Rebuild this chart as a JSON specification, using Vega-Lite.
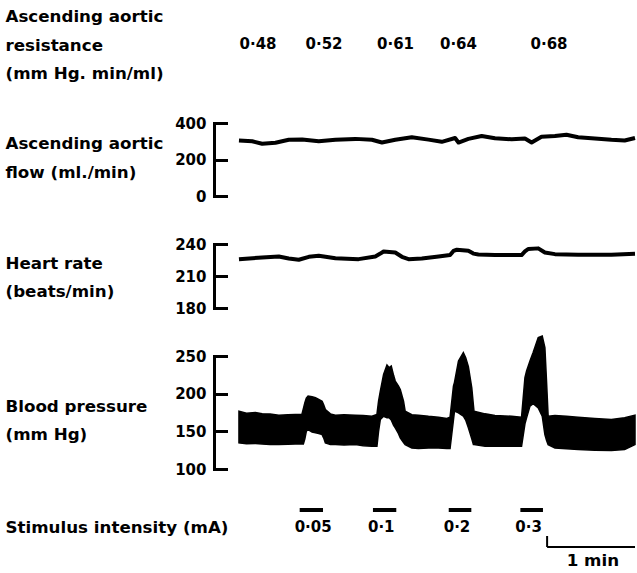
{
  "$schema": "https://vega.github.io/schema/vega-lite/v6.json",
  "background": "white",
  "padding": {"left": 5, "top": 0, "right": 0, "bottom": 0},
  "bounds": "flush",
  "spacing": 48,
  "config": {
    "font": "DejaVu Sans",
    "view": {"stroke": null},
    "axis": {
      "grid": false,
      "domainColor": "black", "domainWidth": 3, "domainCap": "square",
      "tickColor": "black", "tickWidth": 3, "tickSize": -12, "tickCap": "square",
      "labelPadding": 20, "labelFont": "DejaVu Sans", "labelFontWeight": "bold", "labelFontSize": 15, "labelColor": "black",
      "titleFont": "DejaVu Sans", "titleFontWeight": "bold", "titleFontSize": 16.7, "titleColor": "black",
      "titleAngle": 0, "titleAlign": "left", "titleBaseline": "middle", "titleX": -209, "titleLineHeight": 28.5
    }
  },
  "vconcat": [
    {
      "width": 421, "height": 75,
      "data": {"values": [
        {"t": 29.8, "r": "0·48", "row": "resistance"},
        {"t": 74.5, "r": "0·52", "row": "resistance"},
        {"t": 122.9, "r": "0·61", "row": "resistance"},
        {"t": 165.5, "r": "0·64", "row": "resistance"},
        {"t": 226.8, "r": "0·68", "row": "resistance"}
      ]},
      "mark": {"type": "text", "fontWeight": "bold", "fontSize": 15, "color": "black", "baseline": "middle"},
      "encoding": {
        "x": {"field": "t", "type": "quantitative", "scale": {"domain": [0, 285], "nice": false, "zero": false}, "axis": null},
        "y": {"field": "row", "type": "nominal", "scale": {"type": "point", "padding": 0.5, "align": 0.5867},
              "axis": {"title": ["Ascending aortic", "resistance", "(mm Hg. min/ml)"], "titleY": 16.5, "domain": false, "ticks": false, "labels": false}},
        "text": {"field": "r"}
      }
    },
    {
      "width": 421, "height": 73,
      "data": {"values": [
        {"t": 16.9, "v": 304}, {"t": 25.9, "v": 300}, {"t": 32.6, "v": 286}, {"t": 41.6, "v": 292},
        {"t": 50.6, "v": 308}, {"t": 59.7, "v": 309}, {"t": 70.9, "v": 300}, {"t": 82.2, "v": 308},
        {"t": 95.7, "v": 313}, {"t": 106.9, "v": 308}, {"t": 113.7, "v": 293}, {"t": 122.7, "v": 308},
        {"t": 133.9, "v": 322}, {"t": 145.2, "v": 309}, {"t": 154.2, "v": 297}, {"t": 163.2, "v": 318},
        {"t": 165.5, "v": 293}, {"t": 172.2, "v": 313}, {"t": 181.2, "v": 329}, {"t": 190.2, "v": 316},
        {"t": 201.5, "v": 311}, {"t": 210.5, "v": 315}, {"t": 215.0, "v": 293}, {"t": 221.7, "v": 325},
        {"t": 230.8, "v": 329}, {"t": 238.6, "v": 336}, {"t": 246.5, "v": 322}, {"t": 257.8, "v": 315},
        {"t": 269.0, "v": 308}, {"t": 278.0, "v": 304}, {"t": 285.0, "v": 318}
      ]},
      "mark": {"type": "line", "color": "black", "strokeWidth": 4, "strokeJoin": "round"},
      "encoding": {
        "x": {"field": "t", "type": "quantitative", "scale": {"domain": [0, 285], "nice": false, "zero": false}, "axis": null},
        "y": {"field": "v", "type": "quantitative", "scale": {"domain": [0, 400], "nice": false, "zero": false},
              "axis": {"values": [0, 200, 400], "title": ["Ascending aortic", "flow (ml./min)"], "titleY": 20.7}}
      }
    },
    {
      "width": 421, "height": 64,
      "data": {"values": [
        {"t": 16.9, "v": 225.8}, {"t": 32.6, "v": 227.4}, {"t": 43.9, "v": 228.3}, {"t": 50.6, "v": 226.4},
        {"t": 57.4, "v": 225.2}, {"t": 64.2, "v": 228}, {"t": 70.9, "v": 229}, {"t": 82.2, "v": 226.7},
        {"t": 97.9, "v": 225.8}, {"t": 109.2, "v": 228.3}, {"t": 112.6, "v": 231}, {"t": 114.8, "v": 233},
        {"t": 122.7, "v": 232}, {"t": 127.2, "v": 228}, {"t": 131.7, "v": 225.8}, {"t": 140.7, "v": 226.4},
        {"t": 152.0, "v": 228.3}, {"t": 159.8, "v": 229.6}, {"t": 162.1, "v": 233.5}, {"t": 164.4, "v": 234.6},
        {"t": 172.2, "v": 233.7}, {"t": 175.6, "v": 231}, {"t": 179.0, "v": 230.2}, {"t": 190.2, "v": 229.6},
        {"t": 208.2, "v": 229.6}, {"t": 210.5, "v": 233}, {"t": 212.7, "v": 235.3}, {"t": 219.5, "v": 235.9},
        {"t": 222.9, "v": 233}, {"t": 224.0, "v": 232.1}, {"t": 230.8, "v": 230.5}, {"t": 246.5, "v": 229.9},
        {"t": 269.0, "v": 229.9}, {"t": 285.0, "v": 230.8}
      ]},
      "mark": {"type": "line", "color": "black", "strokeWidth": 4, "strokeJoin": "round"},
      "encoding": {
        "x": {"field": "t", "type": "quantitative", "scale": {"domain": [0, 285], "nice": false, "zero": false}, "axis": null},
        "y": {"field": "v", "type": "quantitative", "scale": {"domain": [180, 240], "nice": false, "zero": false},
              "axis": {"values": [180, 210, 240], "title": ["Heart rate", "(beats/min)"], "titleY": 19.3}}
      }
    },
    {
      "width": 421, "height": 113,
      "data": {"values": [
        {"t": 16.9, "hi": 176.8, "lo": 134.6}, {"t": 22, "hi": 174, "lo": 133.5}, {"t": 28, "hi": 175, "lo": 134},
        {"t": 32.6, "hi": 173.2, "lo": 133.3}, {"t": 38, "hi": 173, "lo": 132.5}, {"t": 43.9, "hi": 171.5, "lo": 132.4},
        {"t": 50, "hi": 172, "lo": 133}, {"t": 55, "hi": 172.4, "lo": 133.3}, {"t": 59.5, "hi": 172.4, "lo": 133.3},
        {"t": 60.5, "hi": 180, "lo": 133.3}, {"t": 61.5, "hi": 188, "lo": 140}, {"t": 62.5, "hi": 194, "lo": 150},
        {"t": 63.7, "hi": 196.8, "lo": 152.4}, {"t": 66.4, "hi": 196, "lo": 149}, {"t": 68.7, "hi": 194.5, "lo": 148},
        {"t": 70.9, "hi": 192.3, "lo": 147}, {"t": 73.2, "hi": 190, "lo": 145.7}, {"t": 74.3, "hi": 185, "lo": 141},
        {"t": 75.4, "hi": 179, "lo": 134.6}, {"t": 78.8, "hi": 173.2, "lo": 132.4}, {"t": 82.2, "hi": 171.5, "lo": 132.4},
        {"t": 88, "hi": 172, "lo": 132}, {"t": 95.7, "hi": 171.5, "lo": 132.4}, {"t": 101, "hi": 171, "lo": 131},
        {"t": 106.9, "hi": 170, "lo": 130.2}, {"t": 110.3, "hi": 172.4, "lo": 130.2}, {"t": 111.4, "hi": 190, "lo": 150},
        {"t": 112.6, "hi": 203.4, "lo": 165.7}, {"t": 114.8, "hi": 225.6, "lo": 170}, {"t": 117.1, "hi": 238, "lo": 168},
        {"t": 118.6, "hi": 234.5, "lo": 167.9}, {"t": 120.0, "hi": 236.7, "lo": 165}, {"t": 121.6, "hi": 224, "lo": 158},
        {"t": 122.7, "hi": 216.7, "lo": 154.6}, {"t": 124.9, "hi": 210.1, "lo": 147}, {"t": 126.1, "hi": 205.6, "lo": 141.3},
        {"t": 128.3, "hi": 190, "lo": 135}, {"t": 129.4, "hi": 176.8, "lo": 132.4}, {"t": 133.9, "hi": 172, "lo": 128},
        {"t": 138.4, "hi": 171.5, "lo": 127.1}, {"t": 145.2, "hi": 170, "lo": 128}, {"t": 152.0, "hi": 168.8, "lo": 127.9},
        {"t": 157.6, "hi": 167, "lo": 127.1}, {"t": 159.8, "hi": 168.8, "lo": 127.1}, {"t": 162.1, "hi": 210, "lo": 165},
        {"t": 162.8, "hi": 215, "lo": 176.8}, {"t": 165.5, "hi": 243.3, "lo": 174.6}, {"t": 168.8, "hi": 254.4, "lo": 170.1},
        {"t": 170.4, "hi": 247.8, "lo": 165}, {"t": 172.2, "hi": 236, "lo": 154.6}, {"t": 174.5, "hi": 207.8, "lo": 140},
        {"t": 175.6, "hi": 185, "lo": 132.4}, {"t": 176.0, "hi": 176.8, "lo": 132.4}, {"t": 183.5, "hi": 173.2, "lo": 130.2},
        {"t": 190.2, "hi": 171, "lo": 130.5}, {"t": 201.5, "hi": 170, "lo": 130.2}, {"t": 208.2, "hi": 168.8, "lo": 130.2},
        {"t": 210.5, "hi": 221.2, "lo": 160}, {"t": 211.6, "hi": 230, "lo": 167.9}, {"t": 213.9, "hi": 243.3, "lo": 183.5},
        {"t": 216.1, "hi": 255, "lo": 186.6}, {"t": 219.5, "hi": 274.4, "lo": 181.2}, {"t": 222.2, "hi": 276.6, "lo": 170.1},
        {"t": 224.0, "hi": 261.1, "lo": 145.7}, {"t": 225.1, "hi": 216.7, "lo": 138}, {"t": 226.2, "hi": 170.1, "lo": 132.4},
        {"t": 230.8, "hi": 171, "lo": 127.9}, {"t": 238.6, "hi": 170, "lo": 127}, {"t": 246.5, "hi": 168.8, "lo": 125.8},
        {"t": 257.8, "hi": 167, "lo": 125}, {"t": 269.0, "hi": 165.6, "lo": 124.4}, {"t": 278, "hi": 168, "lo": 126},
        {"t": 285, "hi": 171.5, "lo": 132.4}
      ]},
      "mark": {"type": "area", "color": "black", "stroke": "black", "strokeWidth": 1.5},
      "encoding": {
        "x": {"field": "t", "type": "quantitative", "scale": {"domain": [0, 285], "nice": false, "zero": false}, "axis": null},
        "y": {"field": "hi", "type": "quantitative", "scale": {"domain": [100, 250], "nice": false, "zero": false},
              "axis": {"values": [100, 150, 200, 250], "title": ["Blood pressure", "(mm Hg)"], "titleY": 50}},
        "y2": {"field": "lo"}
      }
    },
    {
      "width": 421, "height": 56,
      "layer": [
        {
          "data": {"values": [
            {"start": 58.0, "end": 73.8, "mA": "0·05"},
            {"start": 107.6, "end": 123.4, "mA": "0·1"},
            {"start": 158.9, "end": 174.2, "mA": "0·2"},
            {"start": 207.4, "end": 222.7, "mA": "0·3"}
          ]},
          "layer": [
            {
              "mark": {"type": "rule", "color": "black", "strokeWidth": 4},
              "encoding": {
                "x": {"field": "start", "type": "quantitative", "scale": {"domain": [0, 285], "nice": false, "zero": false}, "axis": null},
                "x2": {"field": "end"},
                "y": {"datum": "stimulus", "type": "nominal",
                      "scale": {"type": "point", "domain": ["stimulus", "intensity", "scale", "unit"], "range": [-7, 44], "padding": 0},
                      "axis": {"title": "Stimulus intensity (mA)", "titleY": 10, "domain": false, "ticks": false, "labels": false}}
              }
            },
            {
              "mark": {"type": "text", "color": "black", "fontWeight": "bold", "fontSize": 15, "align": "left", "baseline": "middle", "dx": -5},
              "encoding": {
                "x": {"field": "start", "type": "quantitative", "scale": {"domain": [0, 285], "nice": false, "zero": false}, "axis": null},
                "y": {"datum": "intensity", "type": "nominal"},
                "text": {"field": "mA"}
              }
            }
          ]
        },
        {
          "data": {"values": [{"t0": 225.5, "t1": 285, "tl": 256.5, "label": "1 min"}]},
          "layer": [
            {
              "mark": {"type": "rule", "color": "black", "strokeWidth": 2, "yOffset": 3},
              "encoding": {
                "x": {"field": "t0", "type": "quantitative", "scale": {"domain": [0, 285], "nice": false, "zero": false}, "axis": null},
                "x2": {"field": "t1"},
                "y": {"datum": "scale", "type": "nominal"}
              }
            },
            {
              "mark": {"type": "rule", "color": "black", "strokeWidth": 2, "yOffset": 3, "y2Offset": -8},
              "encoding": {
                "x": {"field": "t0", "type": "quantitative", "scale": {"domain": [0, 285], "nice": false, "zero": false}, "axis": null},
                "y": {"datum": "scale", "type": "nominal"},
                "y2": {"datum": "scale"}
              }
            },
            {
              "mark": {"type": "text", "color": "black", "fontWeight": "bold", "fontSize": 16.7, "align": "center", "baseline": "middle"},
              "encoding": {
                "x": {"field": "tl", "type": "quantitative", "scale": {"domain": [0, 285], "nice": false, "zero": false}, "axis": null},
                "y": {"datum": "unit", "type": "nominal"},
                "text": {"field": "label"}
              }
            }
          ]
        }
      ]
    }
  ]
}
